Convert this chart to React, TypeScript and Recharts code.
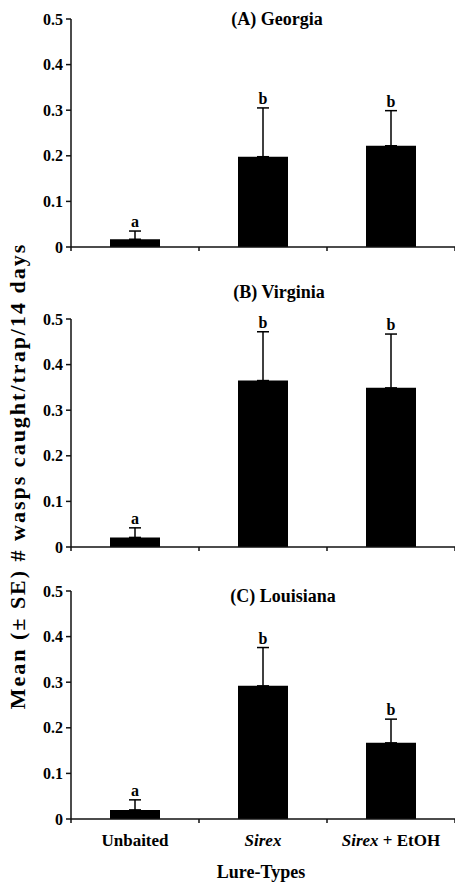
import React from "react";
import { BarChart, Bar, XAxis, YAxis, ErrorBar, LabelList } from "recharts";

const categories = ["Unbaited", "Sirex", "Sirex + EtOH"];
const slots = [0.5, 1.5, 2.5];
const letters = ["a", "b", "b"];

const georgiaMean = [0.017, 0.198, 0.222];
const georgiaSE = [0.018, 0.107, 0.077];
const virginiaMean = [0.021, 0.365, 0.349];
const virginiaSE = [0.021, 0.107, 0.118];
const louisianaMean = [0.02, 0.292, 0.167];
const louisianaSE = [0.022, 0.084, 0.052];

const yTicks = [0, 0.1, 0.2, 0.3, 0.4, 0.5];
const xTicks = [0, 0.5, 1, 1.5, 2, 2.5, 3];

const FONT = "'Liberation Serif', 'Times New Roman', Times, serif";
const INK = "#111";

function buildRows(mean: number[], se: number[]) {
  return categories.map((name, i) => ({
    name,
    pos: slots[i],
    mean: mean[i],
    err: [0, se[i]],
    letter: letters[i],
  }));
}

function XTick(props: any) {
  const { x, y, payload, showLabels } = props
  const v = payload.value
  if (Number.isInteger(v)) {
    return <line x1={x} x2={x} y1={y} y2={y + 4} stroke={INK} strokeWidth={1.5} />
  }
  if (!showLabels) return <g />
  const name = categories[slots.indexOf(v)]
  const italic = name.startsWith("Sirex")
  return (
    <text x={x} y={y + 27} textAnchor="middle" fontFamily={FONT} fontWeight="bold" fontSize={17} fill="#000">
      {italic ? (
        <>
          <tspan fontStyle="italic">Sirex</tspan>
          <tspan>{name.slice(5)}</tspan>
        </>
      ) : (
        name
      )}
    </text>
  )
}

// letter sits just above the top of the error bar
const letterContent = (mean: number[], se: number[]) => (props: any) => {
  const vb = props.viewBox ?? props
  const x = props.x ?? vb.x
  const y = props.y ?? vb.y
  const width = props.width ?? vb.width
  const height = props.height ?? vb.height
  const i = props.index
  const errTop = y - (height * se[i]) / mean[i]
  return (
    <text x={x + width / 2} y={errTop - 4} textAnchor="middle" fontFamily={FONT} fontWeight="bold" fontSize={16} fill="#000">
      {props.value}
    </text>
  )
}

function Panel({ mean, se, top, height, showLabels }: { mean: number[]; se: number[]; top: number; height: number; showLabels: boolean }) {
  const rows = buildRows(mean, se)
  return (
    <div style={{ position: "absolute", left: 0, top }}>
      <BarChart width={455} height={height} data={rows} margin={{ top: 19, right: 0, bottom: 0, left: 0 }}>
        <XAxis
          type="number"
          dataKey="pos"
          domain={[0, 3]}
          ticks={xTicks}
          interval={0}
          allowDataOverflow
          tickLine={false}
          tickSize={0}
          tickMargin={0}
          height={height - 19 - 228}
          axisLine={{ stroke: INK, strokeWidth: 1.5 }}
          tick={(p: any) => <XTick {...p} showLabels={showLabels} />}
        />
        <YAxis
          domain={[0, 0.5]}
          ticks={yTicks}
          interval={0}
          width={71}
          tickSize={5}
          tickMargin={3}
          axisLine={{ stroke: INK, strokeWidth: 1.5 }}
          tickLine={{ stroke: INK, strokeWidth: 1.5 }}
          tickFormatter={(v: number) => (v === 0 ? "0" : v.toFixed(1))}
          tick={{ fontFamily: FONT, fontWeight: "bold", fontSize: 16, fill: "#000" }}
        />
        <Bar dataKey="mean" fill="#000" barSize={50} isAnimationActive={false}>
          <ErrorBar dataKey="err" direction="y" width={6} stroke="#000" strokeWidth={1.5} isAnimationActive={false} />
          <LabelList dataKey="letter" content={letterContent(mean, se)} />
        </Bar>
      </BarChart>
    </div>
  )
}

export default function App() {
  const titleStyle = { fontFamily: FONT, fontWeight: "bold" as const, fontSize: 18, fill: "#000" }
  return (
    <div style={{ position: "absolute", left: 0, top: 0, width: 455, height: 882, background: "#fff" }}>
      <Panel mean={georgiaMean} se={georgiaSE} top={0} height={262} showLabels={false} />
      <Panel mean={virginiaMean} se={virginiaSE} top={300} height={262} showLabels={false} />
      <Panel mean={louisianaMean} se={louisianaSE} top={572} height={287} showLabels={true} />
      <svg width={455} height={882} style={{ position: "absolute", left: 0, top: 0, pointerEvents: "none" }}>
        <text x={277} y={25} textAnchor="middle" {...titleStyle}>(A) Georgia</text>
        <text x={279} y={298} textAnchor="middle" {...titleStyle}>(B) Virginia</text>
        <text x={283} y={602} textAnchor="middle" {...titleStyle}>(C) Louisiana</text>
        <text x={261} y={878} textAnchor="middle" {...titleStyle}>Lure-Types</text>
        <text
          transform="translate(25,476) rotate(-90)"
          textAnchor="middle"
          fontFamily={FONT}
          fontWeight="bold"
          fontSize={22}
          letterSpacing={2}
          fill="#000"
        >
          Mean (± SE) # wasps caught/trap/14 days
        </text>
      </svg>
    </div>
  )
}
